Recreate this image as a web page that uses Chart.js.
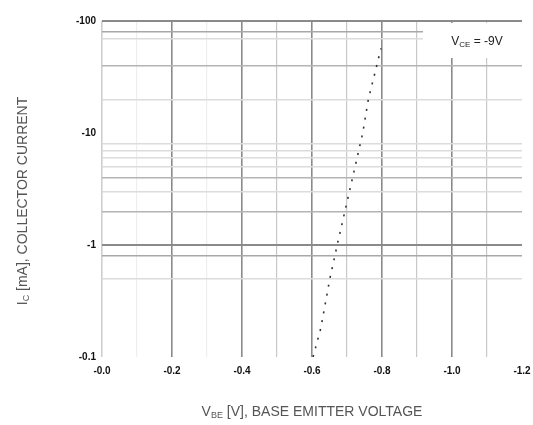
<!DOCTYPE html>
<html>
<head>
<meta charset="utf-8">
<script src="https://cdn.jsdelivr.net/npm/chart.js@4"></script>
<style>
  html, body { margin: 0; padding: 0; background: #fff; }
  #wrap { width: 533px; height: 425px; }
</style>
</head>
<body>
<div id="wrap"><canvas id="chart"></canvas></div>
<script>
// data
var vbe = [-0.603, -0.625, -0.651, -0.672, -0.694, -0.716, -0.745, -0.761, -0.785, -0.797];
var ic  = [0.1, 0.18, 0.5, 1, 2, 4, 10, 20, 40, 57];

var xGrid = [0, -0.1, -0.2, -0.3, -0.4, -0.5, -0.6, -0.7, -0.8, -0.9, -1.0, -1.1, -1.2];
var xTickLabels = ['-0.0', '', '-0.2', '', '-0.4', '', '-0.6', '', '-0.8', '', '-1.0', '', '-1.2'];
var yGrid = [0.1, 0.5, 0.8, 1, 2, 3, 4, 5, 6, 7, 8, 10, 20, 40, 70, 80, 100];
var yTickValues = [0.1, 1, 10, 100];
var yTickLabels = ['-0.1', '-1', '-10', '-100'];

function xLineColor(i) {
  if (i === 12) return 'rgba(0,0,0,0)';
  if (i === 0) return '#cfcfcf';
  if (i % 2 === 0) return '#8a8a8a';
  if (i < 4) return '#eeeeee';
  return '#c8c8c8';
}
function yLineColor(v) {
  if (v === 0.1 || v === 10) return 'rgba(0,0,0,0)';
  if (v === 1 || v === 100) return '#8a8a8a';
  if (v === 80 || v === 0.8) return '#a8a8a8';
  if (v === 40 || v === 4 || v === 2) return '#b4b4b4';
  return '#dcdcdc';
}

function drawSub(ctx, parts, x, y, size) {
  var w = 0;
  function font(sub) {
    return (sub ? Math.round(size * 0.65) : size) + 'px "Liberation Sans", Arial, sans-serif';
  }
  parts.forEach(function (p) {
    ctx.font = font(p[1]);
    w += ctx.measureText(p[0]).width;
  });
  var cx = x - w / 2;
  ctx.textAlign = 'left';
  ctx.textBaseline = 'middle';
  parts.forEach(function (p) {
    ctx.font = font(p[1]);
    ctx.fillText(p[0], cx, p[1] ? y + size * 0.25 : y);
    cx += ctx.measureText(p[0]).width;
  });
}

var labels = {
  id: 'labels',
  afterDraw: function (chart) {
    var ctx = chart.ctx, a = chart.chartArea;
    ctx.save();
    // condition box
    ctx.fillStyle = '#fff';
    ctx.fillRect(a.right - 99, a.top + 2, 101, 35);
    ctx.fillStyle = '#222';
    drawSub(ctx, [['V', false], ['CE', true], [' = -9V', false]], a.right - 45, a.top + 21, 12);

    // axis titles
    ctx.fillStyle = '#555';
    drawSub(ctx, [['V', false], ['BE', true], [' [V], BASE EMITTER VOLTAGE', false]], (a.left + a.right) / 2, 412, 14);
    ctx.translate(23, 201);
    ctx.rotate(-Math.PI / 2);
    drawSub(ctx, [['I', false], ['C', true], [' [mA], COLLECTOR CURRENT', false]], 0, 0, 14);
    ctx.restore();
  }
};

new Chart(document.getElementById('chart'), {
  type: 'scatter',
  data: {
    datasets: [{
      data: vbe.map(function (v, i) { return { x: v, y: ic[i] }; }),
      showLine: true,
      borderColor: '#333',
      borderWidth: 1.6,
      borderDash: [2, 7],
      pointRadius: 0,
      tension: 0
    }]
  },
  options: {
    responsive: true,
    maintainAspectRatio: false,
    animation: false,
    layout: { padding: { left: 40, right: 11, top: 21, bottom: 48 } },
    plugins: { legend: { display: false }, tooltip: { enabled: false } },
    scales: {
      x: {
        type: 'linear',
        min: -1.2,
        max: 0,
        reverse: true,
        afterBuildTicks: function (s) { s.ticks = xGrid.map(function (v) { return { value: v }; }); },
        afterFit: function (s) { s.height = 20; s.paddingLeft = 0; s.paddingRight = 0; },
        border: { display: false },
        grid: {
          drawTicks: false,
          color: function (c) { return xLineColor(c.index); },
          lineWidth: function (c) { return c.index % 2 === 0 ? 1.6 : 1.2; }
        },
        ticks: {
          autoSkip: false,
          maxRotation: 0,
          padding: 8,
          color: '#111',
          font: { family: '"Liberation Sans", Arial, sans-serif', size: 10, weight: 'bold' },
          callback: function (v, i) { return xTickLabels[i]; }
        }
      },
      y: {
        type: 'logarithmic',
        min: 0.1,
        max: 100,
        afterBuildTicks: function (s) { s.ticks = yGrid.map(function (v) { return { value: v }; }); },
        afterFit: function (s) { s.width = 62; s.paddingTop = 0; s.paddingBottom = 0; },
        border: { display: false },
        grid: {
          drawTicks: false,
          color: function (c) { return yLineColor(c.tick.value); },
          lineWidth: function (c) { var v = c.tick.value; return (v === 1 || v === 100) ? 2 : 1.5; }
        },
        ticks: {
          autoSkip: false,
          padding: 6,
          color: '#111',
          font: { family: '"Liberation Sans", Arial, sans-serif', size: 10, weight: 'bold' },
          callback: function (v) {
            var k = yTickValues.indexOf(v);
            return k < 0 ? '' : yTickLabels[k];
          }
        }
      }
    }
  },
  plugins: [labels]
});
</script>
</body>
</html>
